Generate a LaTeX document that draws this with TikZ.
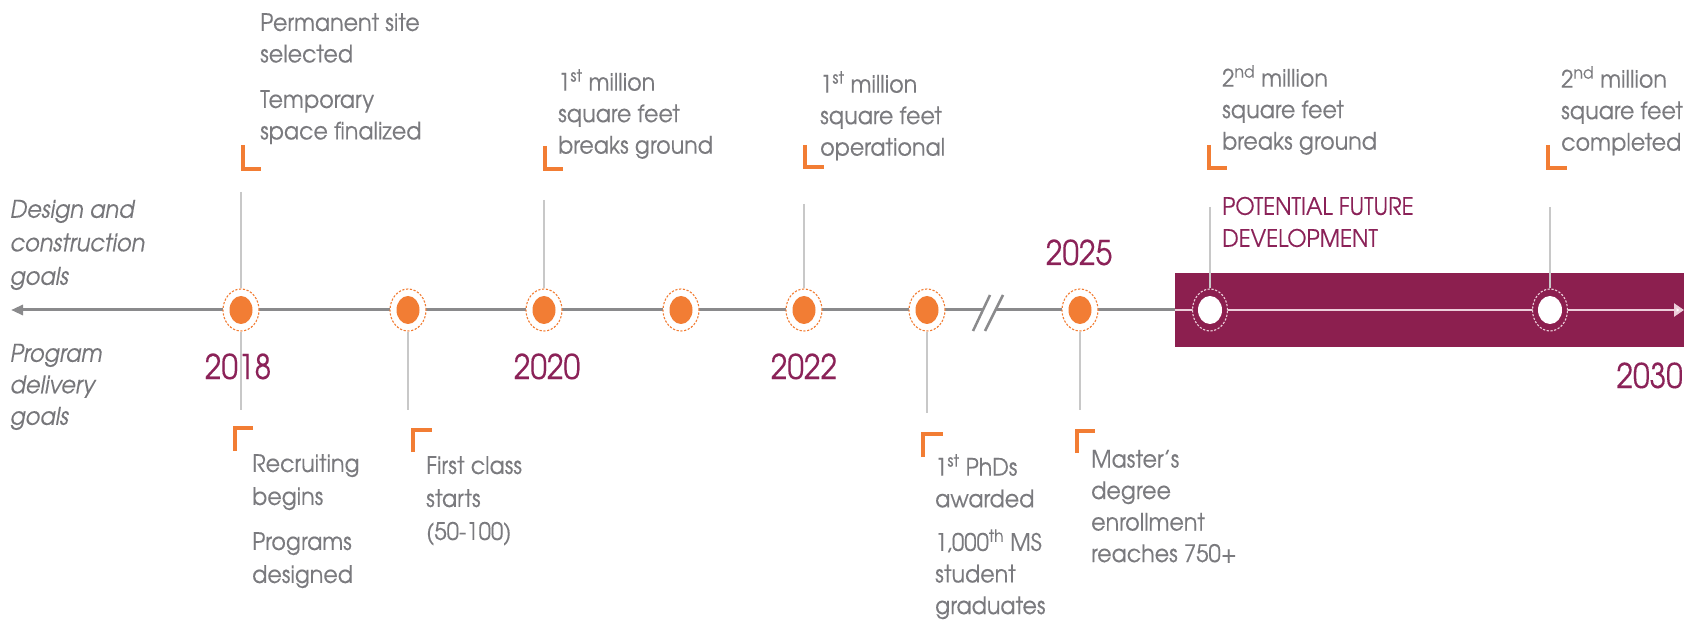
\documentclass[tikz,border=0pt]{standalone}
\usepackage{fontspec}
\setmainfont{TeX Gyre Adventor}[FakeStretch=0.925,FakeBold=0.35]
\newfontfamily\yearfont{TeX Gyre Adventor}[FakeStretch=0.88,FakeBold=0.3]
\usetikzlibrary{arrows.meta,shapes.geometric}
\definecolor{myorange}{RGB}{242,125,52}
\definecolor{mypurple}{RGB}{140,31,79}
\definecolor{yearpurple}{RGB}{139,34,88}
\definecolor{txtgrey}{RGB}{122,122,126}
\definecolor{goalgrey}{RGB}{118,118,122}
\definecolor{linegrey}{RGB}{200,200,200}
\definecolor{axisgrey}{RGB}{138,138,140}
\definecolor{palepink}{RGB}{236,206,218}
\tikzset{
 ring/.style={ellipse, minimum width=36pt, minimum height=42pt, inner sep=0pt, draw=myorange, dash pattern=on 2.2pt off 1.6pt, line width=1.1pt, fill=white},
 dot/.style={ellipse, minimum width=23pt, minimum height=28pt, inner sep=0pt, fill=myorange},
 wring/.style={ellipse, minimum width=35pt, minimum height=42pt, inner sep=0pt, draw=palepink, dash pattern=on 2.2pt off 1.6pt, line width=1.1pt, fill=mypurple},
 wdot/.style={ellipse, minimum width=24pt, minimum height=28pt, inner sep=0pt, fill=white},
 conn/.style={draw=linegrey, line width=1.5pt},
 brk/.style={draw=myorange, line width=3.5pt},
 body/.style={anchor=north west, inner sep=0pt, align=left, text=txtgrey, font=\fontsize{24}{31.5}\selectfont},
 year/.style={anchor=base, inner sep=0pt, text=yearpurple, font=\yearfont\fontsize{34}{40}\selectfont},
 goal/.style={anchor=north west, inner sep=0pt, align=left, text=goalgrey, font=\itshape\fontsize{24.3}{33.5}\selectfont},
 axisline/.style={draw=axisgrey, line width=3pt},
}
\begin{document}
\begin{tikzpicture}[x=1pt,y=-1pt]
\useasboundingbox (0,0) rectangle (1700,620);
% purple future band
\node[fill=mypurple, minimum width=509pt, minimum height=74pt, inner sep=0pt, anchor=north west] (band) at (1175,273) {};
% axis coordinates
\coordinate (L) at (11,310);
\coordinate (B1) at (983,310);
\coordinate (B2) at (995,310);
\coordinate (R0) at (1175,310);
\coordinate (R) at (1684,310);
\draw[axisline, -{Triangle[length=12pt,width=10pt]}] (B1) -- (L);
\draw[axisline] (B2) -- (R0);
\draw[draw=palepink, line width=2.5pt, -{Triangle[length=10pt,width=13pt,fill=white]}] (R0) -- (R);
% break marks
\coordinate (s1a) at (973,331); \coordinate (s1b) at (990,295);
\coordinate (s2a) at (985,331); \coordinate (s2b) at (1003,295);
\draw[draw=axisgrey, line width=2.5pt] (s1a) -- (s1b);
\draw[draw=axisgrey, line width=2.5pt] (s2a) -- (s2b);
% connector end points
\coordinate (t1) at (241,192);
\coordinate (t3) at (544,200);
\coordinate (t5) at (804,204);
\coordinate (t8) at (1210,207);
\coordinate (t9) at (1550,207);
\coordinate (b1) at (241,410);
\coordinate (b2) at (408,410);
\coordinate (b6) at (927,413);
\coordinate (b7) at (1080,410);
% milestone circles
\node[ring] (c1) at (241,310) {}; \node[dot] (d1) at (c1) {};
\node[ring] (c2) at (408,310) {}; \node[dot] (d2) at (c2) {};
\node[ring] (c3) at (544,310) {}; \node[dot] (d3) at (c3) {};
\node[ring] (c4) at (681,310) {}; \node[dot] (d4) at (c4) {};
\node[ring] (c5) at (804,310) {}; \node[dot] (d5) at (c5) {};
\node[ring] (c6) at (927,310) {}; \node[dot] (d6) at (c6) {};
\node[ring] (c7) at (1080,310) {}; \node[dot] (d7) at (c7) {};
\node[wring] (c8) at (1210,310) {}; \node[wdot] (d8) at (c8) {};
\node[wring] (c9) at (1550,310) {}; \node[wdot] (d9) at (c9) {};
% connectors
\draw[conn] (t1) -- (c1);
\draw[conn] (t3) -- (c3);
\draw[conn] (t5) -- (c5);
\draw[conn] (t8) -- (c8);
\draw[conn] (t9) -- (c9);
\draw[conn] (c1) -- (b1);
\draw[conn] (c2) -- (b2);
\draw[conn] (c6) -- (b6);
\draw[conn] (c7) -- (b7);
% top brackets
\draw[brk] (243,145) |- (261,169);
\draw[brk] (545,146) |- (563,169);
\draw[brk] (805,145) |- (824,167);
\draw[brk] (1209,145) |- (1227,168);
\draw[brk] (1548,145) |- (1567,168);
% bottom brackets
\draw[brk] (235,451) |- (253,428);
\draw[brk] (413,452) |- (432,430);
\draw[brk] (923,457) |- (943,434);
\draw[brk] (1077,453) |- (1095,431);
% texts above
\node[body] (n1) at (260,13) {Permanent site\\selected\\[14pt]Temporary\\space finalized};
\node[body] (n3) at (558,69) {1\textsuperscript{st} million\\square feet\\breaks ground};
\node[body] (n5) at (820,71) {1\textsuperscript{st} million\\square feet\\operational};
\node[body] (n8) at (1222,65) {2\textsuperscript{nd} million\\square feet\\breaks ground};
\node[body] (n9) at (1561,66) {2\textsuperscript{nd} million\\square feet\\completed};
\node[body, text=yearpurple, font=\fontsize{24}{32}\selectfont] (pf) at (1222,196.6) {POTENTIAL FUTURE\\DEVELOPMENT};
% texts below
\node[body, font=\fontsize{24}{33}\selectfont] (m1) at (252,454) {Recruiting\\begins\\[12pt]Programs\\designed};
\node[body, font=\fontsize{24}{33}\selectfont] (m2) at (426,456) {First class\\starts\\(50-100)};
\node[body, font=\fontsize{24}{31.6}\selectfont] (m6) at (935,454) {1\textsuperscript{st} PhDs\\awarded\\[12pt]1,000\textsuperscript{th} MS\\student\\graduates};
\node[body, font=\fontsize{24}{31.5}\selectfont] (m7) at (1091,449.6) {Master's\\degree\\enrollment\\reaches 750+};
% goal labels
\node[goal] (g1) at (10,199.6) {Design and\\construction\\goals};
\node[goal, font=\itshape\fontsize{24.3}{31.5}\selectfont] (g2) at (10,343.6) {Program\\delivery\\goals};
% years
\node[year] (y18) at (238,379) {2018};
\node[year] (y20) at (547,379) {2020};
\node[year] (y22) at (804,379) {2022};
\node[year] (y25) at (1079,265) {2025};
\node[year, anchor=base east] (y30) at (1683,388) {2030};
\end{tikzpicture}
\end{document}
